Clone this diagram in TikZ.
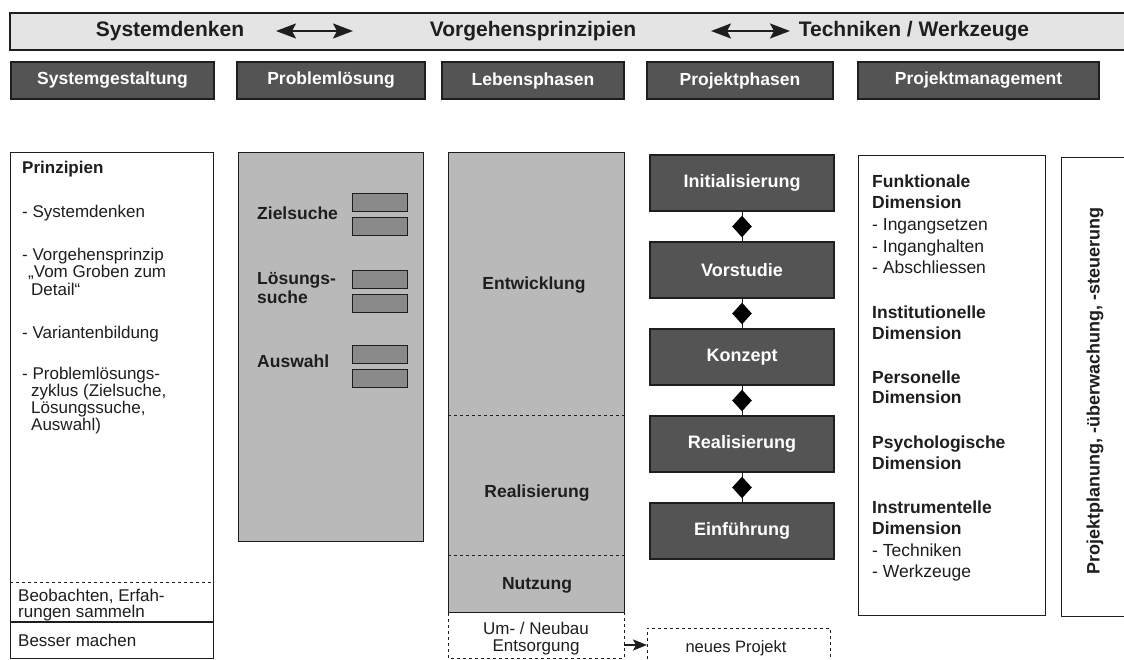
\documentclass[tikz,border=0pt]{standalone}
\usepackage{fontspec}
\setmainfont{Liberation Sans}
\usetikzlibrary{arrows.meta,shapes.geometric}
\definecolor{ink}{HTML}{1E1E1E}
\definecolor{bannerfill}{HTML}{E4E4E4}
\definecolor{darkfill}{HTML}{545454}
\definecolor{midfill}{HTML}{B9B9B9}
\definecolor{smallfill}{HTML}{8A8A8A}
\begin{document}
\begin{tikzpicture}[x=1pt,y=-1pt,
  frame/.style={draw=ink, line width=1.2pt, inner sep=0pt},
  hdr/.style={frame, fill=darkfill, text=white, font=\fontsize{17.5}{19}\selectfont\bfseries},
  phase/.style={frame, fill=darkfill, text=white, minimum width=184, minimum height=56,
                font=\fontsize{18}{20}\selectfont\bfseries},
  chip/.style={frame, fill=smallfill, anchor=north west, minimum width=55, minimum height=18},
  bigtxt/.style={inner sep=0pt, text=ink, font=\fontsize{21}{23}\selectfont\bfseries},
  txt/.style={anchor=base west, inner sep=0pt, text=ink, font=\fontsize{17}{18}\selectfont},
  btxt/.style={txt, font=\fontsize{17}{18}\selectfont\bfseries},
  rtxt/.style={anchor=base west, inner sep=0pt, text=ink, font=\fontsize{17.5}{19}\selectfont},
  rbtxt/.style={rtxt, font=\fontsize{17.5}{19}\selectfont\bfseries},
  ctxt/.style={inner sep=0pt, text=ink, font=\fontsize{17.5}{19}\selectfont\bfseries},
  ntxt/.style={inner sep=0pt, text=ink, font=\fontsize{17}{19}\selectfont},
  gem/.style={diamond, fill=black, inner sep=0pt, minimum width=20, minimum height=22},
  bigtip/.tip={Stealth[length=20pt,width=15pt,inset=4pt]},
  dbl/.style={bigtip-bigtip, line width=2.2pt, draw=ink},
]
\useasboundingbox (0,0) rectangle (1124,660);
\fill[white] (0,0) rectangle (1124,660);

% top banner
\node[frame, fill=bannerfill, minimum width=1125, minimum height=37] (banner) at (572.5,31.5) {};
\node[bigtxt] (t1) at (170,31) {Systemdenken};
\node[bigtxt] (t2) at (533,31) {Vorgehensprinzipien};
\node[bigtxt] (t3) at (914,31) {Techniken / Werkzeuge};
\coordinate (a1l) at (276,31);
\coordinate (a1r) at (353,31);
\coordinate (a2l) at (711,31);
\coordinate (a2r) at (790,31);
\draw[dbl] (a1l) -- (a1r);
\draw[dbl] (a2l) -- (a2r);

% column headers
\node[hdr, minimum width=203, minimum height=37] (h1) at (112.5,80.5) {Systemgestaltung};
\node[hdr, minimum width=188, minimum height=37] (h2) at (331,80.5) {Problemlösung};
\node[hdr, minimum width=182, minimum height=37] (h3) at (533,80.5) {Lebensphasen};
\node[hdr, minimum width=186, minimum height=37] (h4) at (740,80.5) {Projektphasen};
\node[hdr, minimum width=241, minimum height=37] (h5) at (978.5,80.5) {Projektmanagement};

% column 1: principles
\node[frame, fill=white, anchor=north west, minimum width=203, minimum height=506] (c1) at (10,152) {};
\draw[ink, line width=0.9pt, dashed] (10,582) -- (213,582);
\draw[ink, line width=1.2pt] (10,622) -- (213,622);
\node[btxt] (l1) at (22,174) {Prinzipien};
\node[txt] (l2) at (22,218) {- Systemdenken};
\node[txt] (l3) at (22,261) {- Vorgehensprinzip};
\node[txt] (l4) at (28,278) {„Vom Groben zum};
\node[txt] (l5) at (31,295) {Detail“};
\node[txt] (l6) at (22,338) {- Variantenbildung};
\node[txt] (l7) at (22,379) {- Problemlösungs-};
\node[txt] (l8) at (31,396) {zyklus (Zielsuche,};
\node[txt] (l9) at (31,413) {Lösungssuche,};
\node[txt] (l10) at (31,430) {Auswahl)};
\node[txt] (l11) at (18,601) {Beobachten, Erfah-};
\node[txt] (l12) at (18,617) {rungen sammeln};
\node[txt] (l13) at (18,646) {Besser machen};

% column 2: problem solving cycle
\node[frame, fill=midfill, anchor=north west, minimum width=185, minimum height=389] (c2) at (238,152) {};
\node[chip] (z1) at (352,193) {};
\node[chip] (z2) at (352,217) {};
\node[chip] (s1) at (352,270) {};
\node[chip] (s2) at (352,294) {};
\node[chip] (w1) at (352,345) {};
\node[chip] (w2) at (352,369) {};
\node[rbtxt] (k1) at (257,220) {Zielsuche};
\node[rbtxt] (k2) at (257,284) {Lösungs-};
\node[rbtxt] (k3) at (257,304) {suche};
\node[rbtxt] (k4) at (257,367) {Auswahl};

% column 3: life phases
\node[frame, fill=midfill, anchor=north west, minimum width=176, minimum height=460] (c3) at (448,152) {};
\draw[ink, line width=0.9pt, dashed] (448,415) -- (624,415);
\draw[ink, line width=0.9pt, dashed] (448,555) -- (624,555);
\node[ctxt] (e1) at (534,285) {Entwicklung};
\node[ctxt] (e2) at (537,493) {Realisierung};
\node[ctxt] (e3) at (537,585) {Nutzung};
\draw[ink, line width=0.9pt, dashed] (448,613) -- (448,658) -- (624,658) -- (624,613);
\node[ntxt] (u1) at (536,628) {Um- / Neubau};
\node[ntxt] (u2) at (536,647) {Entsorgung};
\node[draw=ink, line width=0.9pt, dashed, anchor=north west, minimum width=183, minimum height=44, inner sep=0pt] (np) at (647,628) {};
\node[ntxt, font=\fontsize{16.5}{18}\selectfont] (npt) at (736,648) {neues Projekt};
\coordinate (ua) at (624,645);
\coordinate (ub) at (647,645);
\draw[ink, line width=1.4pt, -{Stealth[length=14pt,width=11pt,inset=3pt]}] (ua) -- (ub);

% column 4: project phases
\node[phase] (p1) at (742,183) {Initialisierung};
\node[phase] (p2) at (742,270) {Vorstudie};
\node[phase] (p3) at (742,357) {Konzept};
\node[phase] (p4) at (742,444) {Realisierung};
\node[phase] (p5) at (742,531) {Einführung};
\foreach \a/\b in {p1/p2,p2/p3,p3/p4,p4/p5}
  \draw[ink, line width=1pt] (\a.south) -- (\b.north) node[gem, midway] (g\a) {};

% column 5: project management
\node[frame, fill=white, anchor=north west, minimum width=187, minimum height=460] (c5) at (858,155) {};
\node[rbtxt] (r1) at (872,188) {Funktionale};
\node[rbtxt] (r2) at (872,209) {Dimension};
\node[rtxt] (r3) at (872,231) {- Ingangsetzen};
\node[rtxt] (r4) at (872,253) {- Inganghalten};
\node[rtxt] (r5) at (872,274) {- Abschliessen};
\node[rbtxt] (r6) at (872,318) {Institutionelle};
\node[rbtxt] (r7) at (872,339) {Dimension};
\node[rbtxt] (r8) at (872,383) {Personelle};
\node[rbtxt] (r9) at (872,403) {Dimension};
\node[rbtxt] (r10) at (872,448) {Psychologische};
\node[rbtxt] (r11) at (872,469) {Dimension};
\node[rbtxt] (r12) at (872,513) {Instrumentelle};
\node[rbtxt] (r13) at (872,534) {Dimension};
\node[rtxt] (r14) at (872,556) {- Techniken};
\node[rtxt] (r15) at (872,577) {- Werkzeuge};

\node[frame, fill=white, anchor=north west, minimum width=80, minimum height=459] (c6) at (1061,157) {};
\node[ctxt, font=\fontsize{18}{20}\selectfont\bfseries, rotate=90] (pv) at (1095,391) {Projektplanung, -überwachung, -steuerung};
\end{tikzpicture}
\end{document}
